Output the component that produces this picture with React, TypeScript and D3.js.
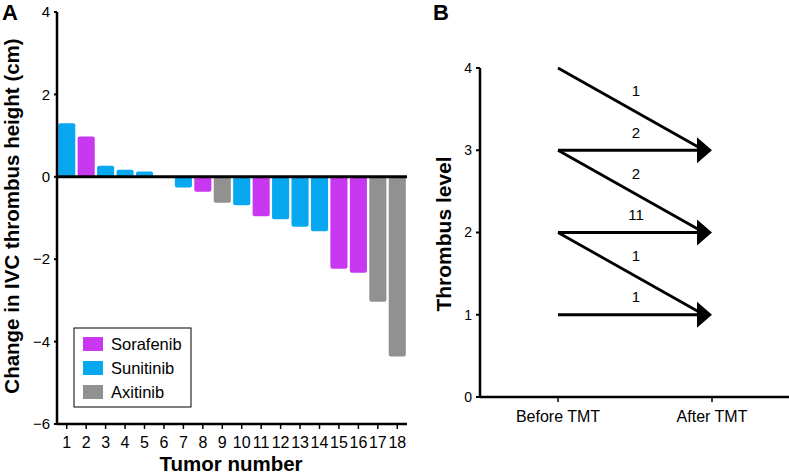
import React from "react";
import * as d3 from "d3";

const tumors = [1, 2, 3, 4, 5, 6, 7, 8, 9, 10, 11, 12, 13, 14, 15, 16, 17, 18];
const changes = [1.3, 0.98, 0.27, 0.17, 0.13, 0, -0.26, -0.36, -0.63, -0.69, -0.96, -1.03, -1.21, -1.32, -2.23, -2.33, -3.03, -4.36];
const drugs = ["Sunitinib", "Sorafenib", "Sunitinib", "Sunitinib", "Sunitinib", "Sunitinib", "Sunitinib", "Sorafenib", "Axitinib", "Sunitinib", "Sorafenib", "Sunitinib", "Sunitinib", "Sunitinib", "Sorafenib", "Sorafenib", "Axitinib", "Axitinib"];
const legendDrugs = ["Sorafenib", "Sunitinib", "Axitinib"];
const drugColors = ["#c838f0", "#08a8f0", "#919191"];
const yTicksA = [4, 2, 0, -2, -4, -6];

const levelsFrom = [4, 3, 3, 2, 2, 1];
const levelsTo = [3, 3, 2, 2, 1, 1];
const flowCounts = [1, 2, 2, 11, 1, 1];
const yTicksB = [0, 1, 2, 3, 4];
const timepoints = ["Before TMT", "After TMT"];

const FONT = "Arial, 'Liberation Sans', Helvetica, sans-serif";

export default function App() {
  // Panel A
  const ax0 = 57, ax1 = 407;
  const x = d3.scaleBand<number>().domain(tumors).range([ax0, ax1]).paddingInner(0.12).paddingOuter(0.06);
  const y = d3.scaleLinear().domain([-6, 4]).range([424, 12]);
  const color = d3.scaleOrdinal<string, string>().domain(legendDrugs).range(drugColors);

  // Panel B
  const bx0 = 480;
  const yb = d3.scaleLinear().domain([0, 4]).range([397, 68]);
  const xb = d3.scalePoint<string>().domain(timepoints).range([558, 712]);
  const targets = Array.from(new Set(levelsTo));
  const tipX = xb(timepoints[1]) as number;

  return (
    <svg width={789} height={475} style={{ position: "absolute", left: 0, top: 0, background: "#fff" }} fontFamily={FONT}>
      {/* Panel A */}
      <text x={2} y={20} fontSize={22} fontWeight="bold">A</text>
      {tumors.map((t, i) => {
        const v = changes[i];
        if (v === 0) return null;
        const y0 = y(0), y1 = y(v);
        return (
          <rect key={t} x={x(t)} width={x.bandwidth()} y={Math.min(y0, y1)} height={Math.abs(y1 - y0)} rx={2} fill={color(drugs[i])} />
        );
      })}
      <line x1={ax0} x2={ax1} y1={y(0)} y2={y(0)} stroke="#000" strokeWidth={3} />
      <line x1={ax0} x2={ax0} y1={y(4)} y2={y(-6)} stroke="#000" strokeWidth={2.5} />
      <line x1={ax0} x2={ax1} y1={y(-6)} y2={y(-6)} stroke="#000" strokeWidth={2.5} />
      {yTicksA.map((t) => (
        <g key={t}>
          <line x1={ax0 - 3} x2={ax0} y1={y(t)} y2={y(t)} stroke="#000" strokeWidth={2} />
          <text x={50} y={y(t)} dy="0.35em" textAnchor="end" fontSize={15}>{t < 0 ? "\u2212" + Math.abs(t) : t}</text>
        </g>
      ))}
      {tumors.map((t) => {
        const cx = (x(t) as number) + x.bandwidth() / 2;
        return (
          <g key={t}>
            <line x1={cx} x2={cx} y1={y(-6)} y2={y(-6) + 5} stroke="#000" strokeWidth={1.5} />
            <text x={cx} y={448} textAnchor="middle" fontSize={16}>{t}</text>
          </g>
        );
      })}
      <text x={231} y={471} textAnchor="middle" fontSize={20.5} fontWeight="bold">Tumor number</text>
      <text transform={`translate(19,216) rotate(-90)`} textAnchor="middle" fontSize={20.5} fontWeight="bold">Change in IVC thrombus height (cm)</text>
      {/* Legend */}
      <rect x={74} y={328} width={117} height={79} fill="#fff" stroke="#000" strokeWidth={1} />
      {legendDrugs.map((d, i) => (
        <g key={d}>
          <rect x={83} y={337 + i * 24} width={20} height={14} fill={drugColors[i]} />
          <text x={111} y={344 + i * 24} dy="0.35em" fontSize={16.5}>{d}</text>
        </g>
      ))}

      {/* Panel B */}
      <text x={433} y={20} fontSize={22} fontWeight="bold">B</text>
      <line x1={bx0} x2={bx0} y1={yb(4)} y2={yb(0)} stroke="#000" strokeWidth={2.5} />
      <line x1={bx0} x2={789} y1={yb(0)} y2={yb(0)} stroke="#000" strokeWidth={2.5} />
      {yTicksB.map((t) => (
        <g key={t}>
          <line x1={bx0 - 4} x2={bx0} y1={yb(t)} y2={yb(t)} stroke="#000" strokeWidth={2} />
          <text x={472} y={yb(t)} dy="0.35em" textAnchor="end" fontSize={14}>{t}</text>
        </g>
      ))}
      {timepoints.map((tp) => (
        <g key={tp}>
          <line x1={xb(tp)} x2={xb(tp)} y1={yb(0)} y2={yb(0) + 5} stroke="#000" strokeWidth={1.5} />
          <text x={xb(tp)} y={422} textAnchor="middle" fontSize={16}>{tp}</text>
        </g>
      ))}
      <text transform={`translate(451,234) rotate(-90)`} textAnchor="middle" fontSize={21} fontWeight="bold">Thrombus level</text>
      {levelsFrom.map((f, i) => {
        const x1 = xb(timepoints[0]) as number;
        const x2 = tipX - 8;
        const y1 = yb(f), y2 = yb(levelsTo[i]);
        return (
          <g key={i}>
            <line x1={x1} y1={y1} x2={x2} y2={y2} stroke="#000" strokeWidth={2.8} />
            <text x={636} y={(y1 + y2) / 2 - 18} dy="0.35em" textAnchor="middle" fontSize={15}>{flowCounts[i]}</text>
          </g>
        );
      })}
      {targets.map((lv) => (
        <path key={lv} d={`M${tipX - 15},${yb(lv) - 13} L${tipX},${yb(lv)} L${tipX - 15},${yb(lv) + 13} Z`} fill="#000" />
      ))}
    </svg>
  );
}
